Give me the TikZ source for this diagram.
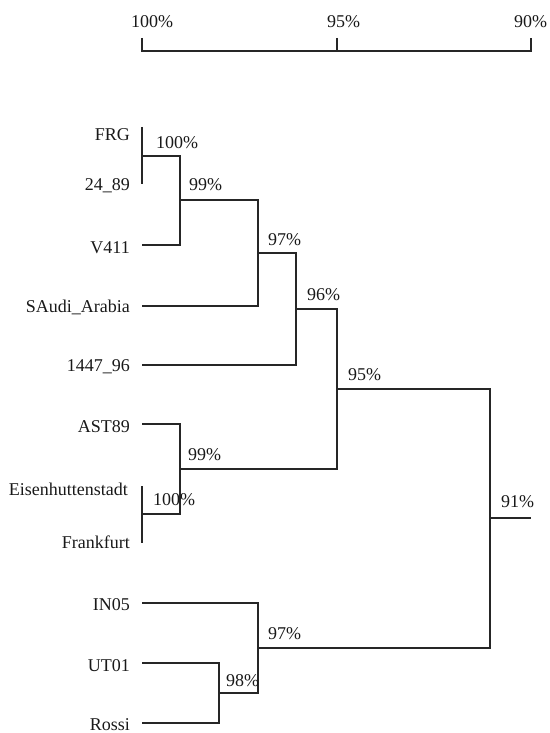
\documentclass[tikz,border=0pt]{standalone}
\usepackage{fontspec}
\setmainfont{Liberation Serif}
\begin{document}
\begin{tikzpicture}[x=1pt,y=-1pt,
  tree/.style={line width=2.6pt, draw=black!85, line join=miter},
  leaflab/.style={anchor=base east, inner sep=0pt, font=\fontsize{18}{20}\selectfont, text=black!90},
  pct/.style={anchor=base west, inner sep=0pt, font=\fontsize{18}{20}\selectfont, text=black!90}]
\useasboundingbox (0,0) rectangle (549,733);
% scale bar
\coordinate (s100) at (142,38);
\coordinate (s100b) at (142,51);
\coordinate (s95) at (337,38);
\coordinate (s95b) at (337,51);
\coordinate (s90) at (531,38);
\coordinate (s90b) at (531,51);
\draw[tree] (s100) -- (s100b) -- (s90b) -- (s90);
\draw[tree] (s95) -- (s95b);
\node[pct] (sl100) at (131,28) {100\%};
\node[pct] (sl95) at (327,28) {95\%};
\node[pct] (sl90) at (514,28) {90\%};
% leaves
\coordinate (lFRG) at (142,127);
\coordinate (l2489) at (142,184);
\coordinate (lV411) at (142,245);
\coordinate (lSA) at (142,306);
\coordinate (l1447) at (142,365);
\coordinate (lAST) at (142,424);
\coordinate (lEis) at (142,486);
\coordinate (lFra) at (142,543);
\coordinate (lIN) at (142,603);
\coordinate (lUT) at (142,663);
\coordinate (lRos) at (142,723);
\node[leaflab] (tFRG) at (130,140) {FRG};
\node[leaflab] (t2489) at (130,190) {24\_89};
\node[leaflab] (tV411) at (130,253) {V411};
\node[leaflab] (tSA) at (130,312) {SAudi\_Arabia};
\node[leaflab] (t1447) at (130,371) {1447\_96};
\node[leaflab] (tAST) at (130,432) {AST89};
\node[leaflab] (tEis) at (128,495) {Eisenhuttenstadt};
\node[leaflab] (tFra) at (130,548) {Frankfurt};
\node[leaflab] (tIN) at (130,610) {IN05};
\node[leaflab] (tUT) at (130,671) {UT01};
\node[leaflab] (tRos) at (130,730) {Rossi};
% joints
\coordinate (j1) at (142,156);
\coordinate (j2) at (180,200);
\coordinate (j3) at (258,253);
\coordinate (j4) at (296,309);
\coordinate (j5) at (142,514);
\coordinate (j6) at (180,469);
\coordinate (j7) at (337,389);
\coordinate (j8) at (219,693);
\coordinate (j9) at (258,648);
\coordinate (j10) at (490,518);
\coordinate (root) at (531,518);
\draw[tree] (lFRG) -- (l2489);
\draw[tree] (j1) -| (j2) |- (lV411);
\draw[tree] (j2) -| (j3) |- (lSA);
\draw[tree] (j3) -| (j4) |- (l1447);
\draw[tree] (lEis) -- (lFra);
\draw[tree] (lAST) -| (j6) |- (j5);
\draw[tree] (j4) -| (j7) |- (j6);
\draw[tree] (lUT) -| (j8) |- (lRos);
\draw[tree] (lIN) -| (j9) |- (j8);
\draw[tree] (j7) -| (j10) |- (j9);
\draw[tree] (j10) -- (root);
% percentages
\node[pct] (p1) at (156,148) {100\%};
\node[pct] (p2) at (189,190) {99\%};
\node[pct] (p3) at (268,245) {97\%};
\node[pct] (p4) at (307,300) {96\%};
\node[pct] (p7) at (348,380) {95\%};
\node[pct] (p6) at (188,460) {99\%};
\node[pct] (p5) at (153,505) {100\%};
\node[pct] (p10) at (501,507) {91\%};
\node[pct] (p9) at (268,639) {97\%};
\node[pct] (p8) at (226,686) {98\%};
\end{tikzpicture}
\end{document}
